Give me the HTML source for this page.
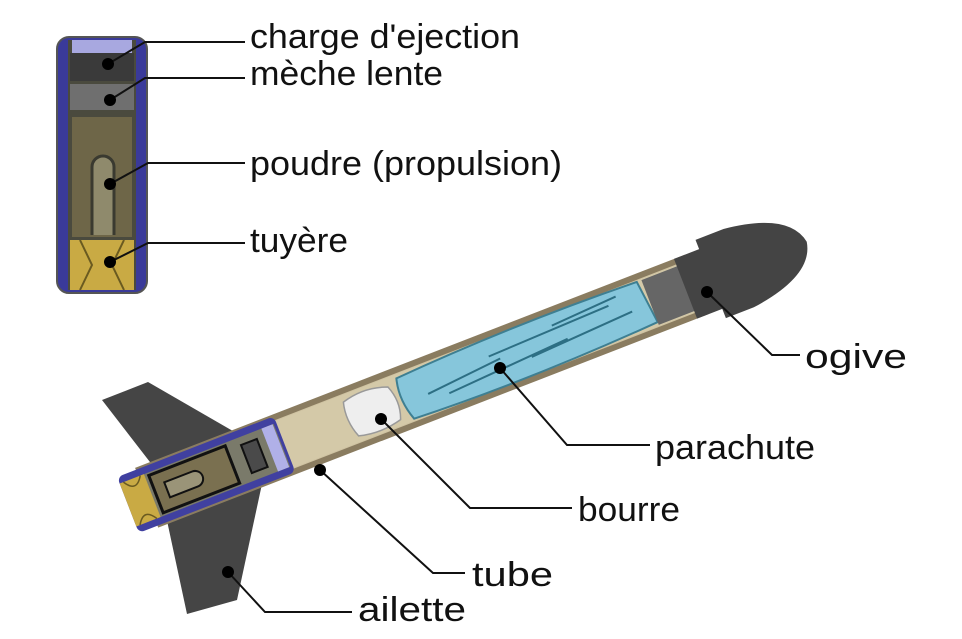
<!DOCTYPE html>
<html><head><meta charset="utf-8"><style>
html,body{margin:0;padding:0;background:#fff;}
svg{display:block;}
text{font-family:"Liberation Sans",Arial,sans-serif;font-size:34px;fill:#111;}
</style></head><body>
<svg width="962" height="639" viewBox="0 0 962 639" xmlns="http://www.w3.org/2000/svg">
<!-- small motor -->
<rect x="57" y="37" width="90" height="256" rx="12" fill="#3a3a9a" stroke="#555" stroke-width="2"/>
<rect x="68" y="40" width="68" height="250" fill="#4a4a3e"/>
<rect x="72" y="40" width="60" height="13" fill="#a8a8e0"/>
<rect x="70" y="53" width="64" height="28" fill="#3a3a3a"/>
<rect x="70" y="84" width="64" height="26" fill="#6f6f6f"/>
<rect x="72" y="117" width="60" height="120" fill="#6e6648"/>
<path d="M92 235 V167 a11 11 0 0 1 22 0 V235" fill="#8f8a6c" stroke="#3a3a30" stroke-width="3"/>
<rect x="70" y="240" width="64" height="50" fill="#c9aa44"/>
<path d="M80 240 L92 265 L80 290 M124 240 L112 265 L124 290" fill="none" stroke="#6a5a20" stroke-width="2"/>
<!-- fins -->
<polygon points="102,400 148,382 245,438 160,475" fill="#454545"/>
<polygon points="160,488 265,470 237,600 187,614" fill="#454545"/>
<!-- rocket -->
<g transform="translate(128,505) rotate(-21.2)">
  <rect x="20" y="-32" width="590" height="64" fill="#8a7c60"/>
  <rect x="20" y="-26" width="590" height="52" fill="#cfc3a2"/>
  <rect x="165" y="-25" width="435" height="50" fill="#d4c9a8"/>
  <rect x="0" y="-30" width="168" height="60" rx="6" fill="#4040a0"/>
  <rect x="22" y="-23" width="143" height="46" fill="#7a7a6a"/>
  <rect x="0" y="-23" width="26" height="46" fill="#c9aa44"/>
  <path d="M4 -23 Q13 -8 22 -23 M4 23 Q13 8 22 23" fill="none" stroke="#6a5a20" stroke-width="1.5"/>
  <rect x="30" y="-20" width="82" height="40" fill="#7a7050" stroke="#111" stroke-width="3"/>
  <path d="M72 -8 H42 V8 H72 a8 8 0 0 0 0 -16" fill="#9a9478" stroke="#111" stroke-width="2"/>
  <rect x="127" y="-15" width="17" height="30" fill="#4a4a4a" stroke="#111" stroke-width="2"/>
  <rect x="152" y="-23" width="12" height="46" fill="#b0b0e8"/>
  <path d="M238 -18 Q262 -25 285 -16 Q292 2 285 19 Q262 25 240 19 Q233 0 238 -18Z" fill="#eeeeee" stroke="#999" stroke-width="1.5"/>
  <path d="M296 -21 Q420 -29 555 -24 L560 21 Q420 29 298 23 Q290 0 296 -21Z" fill="#86c6db" stroke="#3e7f92" stroke-width="2"/>
  <path d="M320 5 L400 -2 M340 12 L470 4 M390 -8 L520 -12 M430 8 L540 2 M460 -14 L530 -18" stroke="#2d6f84" stroke-width="2" fill="none"/>
  <rect x="560" y="-24" width="40" height="48" fill="#666"/>
  <path d="M598 -32 H625 V-42 H655 Q722 -34 728 0 Q722 34 655 42 H625 V32 H598Z" fill="#444"/>
</g>
<!-- leaders -->
<g stroke="#111" stroke-width="2" fill="none">
<path d="M108 64 L145 42 H245"/>
<path d="M110 100 L145 78 H245"/>
<path d="M110 184 L148 163 H245"/>
<path d="M110 262 L148 243 H245"/>
<path d="M707 292 L772 355 H800"/>
<path d="M500 368 L567 445 H650"/>
<path d="M381 419 L470 508 H572"/>
<path d="M320 470 L433 573 H465"/>
<path d="M228 572 L265 612 H352"/>
</g>
<g fill="#000">
<circle cx="108" cy="64" r="6"/><circle cx="110" cy="100" r="6"/><circle cx="110" cy="184" r="6"/><circle cx="110" cy="262" r="6"/>
<circle cx="707" cy="292" r="6"/><circle cx="500" cy="368" r="6"/><circle cx="381" cy="419" r="6"/><circle cx="320" cy="470" r="6"/><circle cx="228" cy="572" r="6"/>
</g>
<text x="250" y="48" textLength="270" lengthAdjust="spacingAndGlyphs">charge d'ejection</text>
<text x="250" y="85" textLength="193" lengthAdjust="spacingAndGlyphs">mèche lente</text>
<text x="250" y="175" textLength="312" lengthAdjust="spacingAndGlyphs">poudre (propulsion)</text>
<text x="250" y="252" textLength="98" lengthAdjust="spacingAndGlyphs">tuyère</text>
<text x="805" y="368" textLength="102" lengthAdjust="spacingAndGlyphs">ogive</text>
<text x="655" y="459" textLength="160" lengthAdjust="spacingAndGlyphs">parachute</text>
<text x="578" y="521" textLength="102" lengthAdjust="spacingAndGlyphs">bourre</text>
<text x="472" y="586" textLength="81" lengthAdjust="spacingAndGlyphs">tube</text>
<text x="358" y="621" textLength="108" lengthAdjust="spacingAndGlyphs">ailette</text>
</svg>
</body></html>
